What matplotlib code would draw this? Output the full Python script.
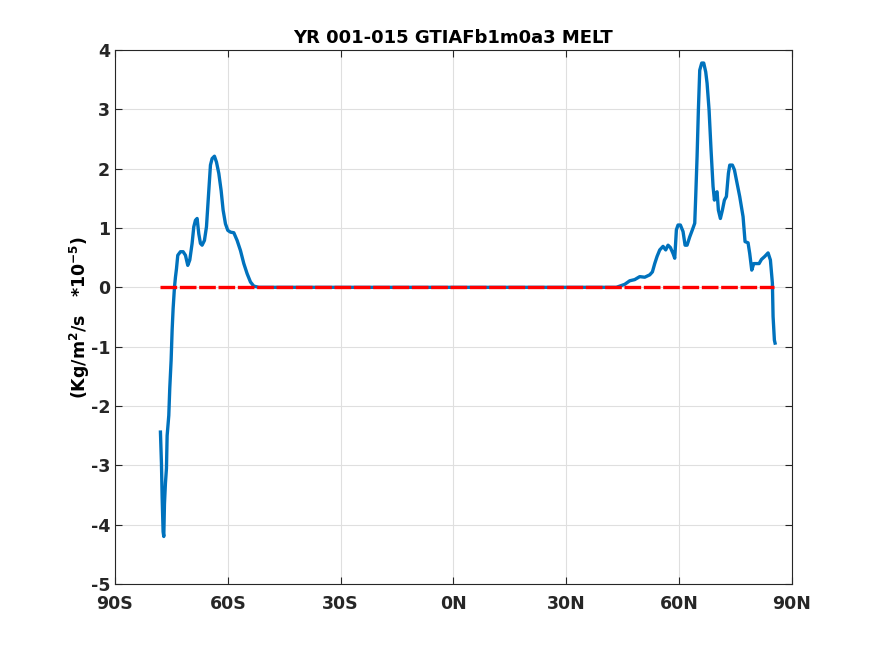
import matplotlib
matplotlib.use('Agg')
import matplotlib.pyplot as plt

# latitude / melt flux (x1e-5 kg/m2/s)
lat_sul = [-77.91, -77.64, -77.46, -77.2, -77.02, -76.84, -76.58, -76.31, -76.13, -75.69,
           -75.43, -75.07, -74.8, -74.54, -74.18, -73.92, -73.65, -73.3, -72.59, -71.88,
           -71.26, -70.64, -70.11, -69.49, -69.04, -68.6, -68.16, -67.71, -67.27, -66.83,
           -66.21, -65.67, -65.05, -64.61, -64.17, -63.55, -63.01, -62.39, -61.77, -61.24,
           -60.62, -60.0, -59.29, -58.4, -57.52, -56.63, -55.74, -54.86, -53.97, -53.09,
           -51.76]
melt_sul = [-2.44, -2.97, -3.53, -4.12, -4.2, -3.65, -3.3, -3.05, -2.5, -2.16,
            -1.7, -1.23, -0.72, -0.36, 0.0, 0.17, 0.31, 0.54, 0.6, 0.6,
            0.54, 0.37, 0.46, 0.74, 1.02, 1.13, 1.16, 0.9, 0.74, 0.71,
            0.79, 1.02, 1.63, 2.06, 2.17, 2.21, 2.11, 1.92, 1.63, 1.3,
            1.07, 0.96, 0.93, 0.92, 0.79, 0.62, 0.4, 0.23, 0.09, 0.02,
            0.0]

lat_norte = [43.33, 44.22, 45.55, 46.88, 48.21, 49.54, 50.87, 52.2, 52.91, 53.53,
             54.15, 54.86, 55.74, 56.45, 57.07, 57.7, 58.4, 58.85, 59.29, 59.73,
             60.35, 61.06, 61.6, 62.13, 62.84, 63.55, 64.17, 64.43, 64.79, 65.14,
             65.5, 66.03, 66.56, 67.09, 67.45, 67.98, 68.51, 69.04, 69.4, 69.75,
             70.11, 70.46, 70.99, 71.52, 72.06, 72.59, 73.12, 73.48, 74.18, 74.72,
             75.25, 76.13, 77.02, 77.55, 78.35, 78.79, 79.33, 79.86, 80.57, 81.28,
             81.91, 82.78, 83.67, 84.29, 84.82, 85.0, 85.35, 85.53]
melt_norte = [0.0, 0.02, 0.05, 0.11, 0.13, 0.18, 0.17, 0.21, 0.26, 0.4,
              0.52, 0.63, 0.69, 0.63, 0.71, 0.67, 0.57, 0.49, 0.97, 1.05,
              1.05, 0.94, 0.71, 0.71, 0.85, 0.97, 1.08, 1.53, 2.2, 2.99,
              3.66, 3.78, 3.78, 3.63, 3.44, 2.99, 2.31, 1.7, 1.47, 1.58,
              1.61, 1.3, 1.16, 1.3, 1.47, 1.53, 1.92, 2.06, 2.06, 1.98,
              1.81, 1.53, 1.19, 0.77, 0.75, 0.57, 0.29, 0.4, 0.4, 0.4,
              0.47, 0.52, 0.58, 0.46, 0.07, -0.49, -0.89, -0.94]

lat = lat_sul + lat_norte
melt = melt_sul + melt_norte

# linha de referencia (zero)
lat_zero = [-78.0, 85.2]
zero = [0.0, 0.0]

xticks = [-90, -60, -30, 0, 30, 60, 90]
xlabels = ['90S', '60S', '30S', '0N', '30N', '60N', '90N']

plt.rcParams['font.family'] = 'DejaVu Sans'
plt.rcParams['font.weight'] = 'bold'
plt.rcParams['axes.unicode_minus'] = False

fig = plt.figure(figsize=(8.75, 6.56), dpi=100)
ax = fig.add_axes([0.1314, 0.1098, 0.7736, 0.814])

ax.plot(lat, melt, color='#0072BD', linewidth=2.4)
ax.plot(lat_zero, zero, color='red', linewidth=2.4, linestyle=(0, (5, 0.8)))

ax.set_xlim(-90, 90)
ax.set_ylim(-5, 4)
ax.set_xticks(xticks)
ax.set_xticklabels(xlabels)
ax.set_yticks(range(-5, 5))
ax.tick_params(direction='in', top=True, right=True, labelsize=12.5, length=5,
               color='#262626', labelcolor='#262626')
ax.tick_params(axis='x', pad=8)
for s in ax.spines.values():
    s.set_color('#262626')
    s.set_linewidth(0.8)
ax.grid(True, color='#dfdfdf', linewidth=0.8)
ax.set_axisbelow(True)

ax.set_title('YR 001-015 GTIAFb1m0a3 MELT', fontsize=13, fontweight='bold', pad=5)
ax.set_ylabel('(Kg/m$^\\mathbf{2}$/s   *10$^{\\mathbf{-5}}$)', fontsize=12.5,
              fontweight='bold', labelpad=-1)

fig.savefig('out.png', dpi=100)
